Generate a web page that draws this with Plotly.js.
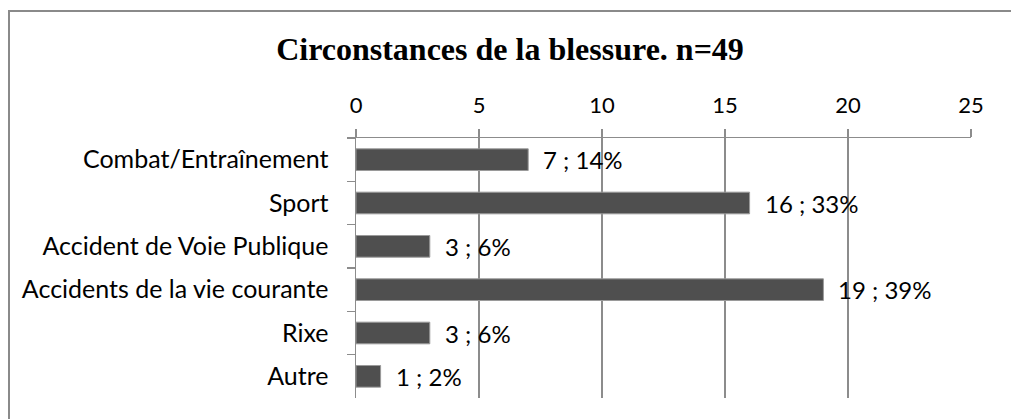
<!DOCTYPE html>
<html>
<head>
<meta charset="utf-8">
<script src="https://cdn.plot.ly/plotly-3.0.1.min.js"></script>
<style>
  html, body { margin: 0; padding: 0; background: #fff; }
  #chart { width: 1011px; height: 419px; }
</style>
</head>
<body>
<div id="chart"></div>
<script>
const categories = ["Combat/Entraînement", "Sport", "Accident de Voie Publique", "Accidents de la vie courante", "Rixe", "Autre"];
const counts = [7, 16, 3, 19, 3, 1];
const percents = [14, 33, 6, 39, 6, 2];
const titleText = "Circonstances de la blessure. n=49";
const xTickVals = [0, 5, 10, 15, 20, 25];

const W = 1011, H = 419;
const M = { l: 356, r: 40, t: 138, b: 21 };
const pw = W - M.l - M.r, ph = H - M.t - M.b;
const px2x = p => (p - M.l) / pw;
const py2y = p => (H - M.b - p) / ph;

const fam = "Lato, 'DejaVu Sans', sans-serif";
const catFont = { family: fam, size: 25, color: "#000" };
const tickFont = { family: fam, size: 22, color: "#000" };
const dataFont = { family: fam, size: 24, color: "#000" };
const gridCol = "#8c8c8c";

const trace = {
  type: "bar",
  orientation: "h",
  y: categories,
  x: counts,
  marker: { color: "#4f4f4f", line: { color: "#9a9a9a", width: 1 } },
  hoverinfo: "skip",
  showlegend: false
};

const annotations = categories.map((c, i) => ({
  x: counts[i], y: c, xref: "x", yref: "y",
  text: counts[i] + " ; " + percents[i] + "%",
  showarrow: false, xanchor: "left", yanchor: "middle", xshift: 13,
  font: dataFont
}));

const shapes = [
  { type: "line", xref: "paper", yref: "paper", x0: px2x(9), x1: px2x(1015), y0: py2y(11), y1: py2y(11), line: { color: "#8a8a8a", width: 2 } },
  { type: "line", xref: "paper", yref: "paper", x0: px2x(9), x1: px2x(9), y0: py2y(10), y1: py2y(425), line: { color: "#8a8a8a", width: 2 } }
];

const layout = {
  width: W, height: H,
  margin: M,
  paper_bgcolor: "#fff", plot_bgcolor: "#fff",
  title: {
    text: "<b>" + titleText + "</b>",
    font: { family: "'Liberation Serif', 'Times New Roman', serif", size: 32, color: "#000" },
    x: 510 / W, xanchor: "center", xref: "container",
    y: 1 - 49 / H, yanchor: "middle", yref: "container"
  },
  bargap: 0.5,
  xaxis: {
    side: "top",
    range: [0, 25],
    tickvals: xTickVals,
    ticktext: xTickVals.map(String),
    showgrid: true, gridcolor: gridCol, gridwidth: 1.5,
    showline: true, linecolor: gridCol, linewidth: 1.5,
    ticks: "outside", ticklen: 8, tickcolor: gridCol, tickwidth: 1.5,
    ticklabelstandoff: 7,
    zeroline: false,
    tickfont: tickFont,
    fixedrange: true
  },
  yaxis: {
    type: "category",
    categoryorder: "array", categoryarray: categories,
    range: [5.5, -0.5],
    showgrid: false,
    showline: true, linecolor: gridCol, linewidth: 1.5,
    ticks: "outside", ticklen: 8, tickcolor: gridCol, tickwidth: 1.5,
    tickson: "boundaries",
    ticklabelstandoff: 21,
    zeroline: false,
    tickfont: catFont,
    fixedrange: true
  },
  annotations: annotations,
  shapes: shapes
};

Plotly.newPlot("chart", [trace], layout, { displayModeBar: false, staticPlot: true });
</script>
</body>
</html>
